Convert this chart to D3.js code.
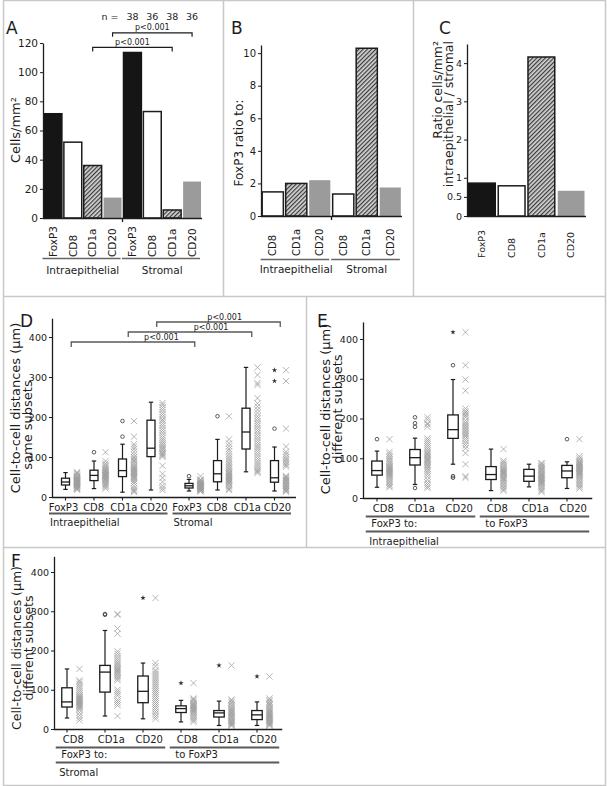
<!DOCTYPE html>
<html>
<head>
<meta charset="utf-8">
<script src="https://cdn.jsdelivr.net/npm/d3@7"></script>
<style>
  body { margin: 0; background: #fff; }
  svg { display: block; }
</style>
</head>
<body>
<svg id="fig" width="607" height="786"></svg>
<script>
// ---- data ----
const categories = ["FoxP3", "CD8", "CD1a", "CD20"];
const locations = ["Intraepithelial", "Stromal"];
const nCounts = [38, 36, 38, 36];

// A: cells/mm2
const densityIntra = [71.5, 52, 36, 14];
const densityStromal = [113.5, 73, 5.5, 25];
const densityTicks = [0, 20, 40, 60, 80, 100, 120];

// B: FoxP3 ratio to subsets
const ratioSubsets = ["CD8", "CD1a", "CD20"];
const ratioIntra = [1.48, 2.0, 2.2];
const ratioStromal = [1.35, 10.3, 1.75];
const ratioTicks = [0, 2, 4, 6, 8, 10];

// C: intraepithelial / stromal
const compartmentRatio = [0.86, 0.79, 4.16, 0.66];
const compartmentTicks = [0, 0.5, 1, 2, 3, 4];

const distanceTicks = [0, 100, 200, 300, 400];

// D: same subsets (intra FoxP3, CD8, CD1a, CD20, stromal FoxP3, CD8, CD1a, CD20)
const sameWhiskerLow = [19, 21, 12, 17.5, 15, 17.5, 63, 15];
const sameQ1 = [30, 41, 51, 101, 22.5, 38, 120, 37];
const sameMedian = [37.5, 54, 66, 122, 28, 58, 162.5, 48];
const sameQ3 = [47, 67, 95, 192, 34, 91, 222, 91];
const sameWhiskerHigh = [61, 90, 132, 237, 44, 144, 324, 125];
const sameOutliers = [[], [112], [151, 190], [], [52], [202], [], [171]];
const sameExtremes = [[], [], [], [], [], [], [], [290, 317]];
const samePoints = [
  [18, 20, 22, 24, 25, 26, 28, 29, 30, 31, 32, 33, 34, 35, 36, 37, 38, 38, 39, 40, 41, 42, 43, 44, 45, 46, 48, 50, 52, 54, 57, 60, 62],
  [21, 25, 28, 31, 34, 37, 40, 42, 44, 46, 48, 50, 52, 53, 54, 55, 56, 58, 60, 62, 64, 66, 68, 70, 73, 76, 80, 84, 90, 112],
  [12, 15, 18, 22, 28, 35, 40, 45, 48, 50, 52, 55, 58, 60, 62, 64, 66, 68, 70, 72, 75, 78, 82, 86, 90, 93, 96, 100, 106, 113, 120, 126, 132, 151, 190],
  [17, 22, 28, 38, 48, 58, 78, 100, 103, 106, 109, 112, 116, 120, 122, 125, 129, 133, 138, 143, 148, 154, 160, 166, 172, 178, 184, 190, 194, 200, 206, 212, 218, 224, 230, 235],
  [14, 15, 17, 18, 19, 20, 21, 22, 23, 23, 24, 25, 26, 27, 27, 28, 28, 29, 30, 31, 32, 33, 34, 35, 36, 38, 40, 42, 44, 52],
  [17, 20, 24, 28, 32, 35, 38, 40, 42, 44, 46, 48, 50, 52, 55, 58, 60, 63, 66, 70, 74, 78, 82, 86, 91, 96, 101, 107, 114, 120, 127, 134, 144, 202],
  [60, 63, 66, 70, 75, 80, 85, 90, 96, 102, 108, 114, 120, 125, 130, 136, 142, 148, 154, 160, 166, 172, 178, 184, 190, 196, 202, 210, 218, 226, 234, 247, 280, 285, 305, 324],
  [13, 15, 18, 20, 22, 25, 28, 30, 33, 36, 38, 40, 42, 45, 48, 50, 53, 76, 80, 84, 88, 92, 96, 101, 107, 113, 126, 171, 290, 317],
];

// E/F: different subsets (FoxP3 to CD8, CD1a, CD20, then CD8, CD1a, CD20 to FoxP3)
const directions = ["FoxP3 to:", "to FoxP3"];
const pairSubsets = ["CD8", "CD1a", "CD20"];

const intraWhiskerLow = [27, 34, 85, 18.6, 28, 24];
const intraQ1 = [57.5, 83, 150, 46.5, 42, 51];
const intraMedian = [69, 101.5, 172, 59, 55, 68];
const intraQ3 = [93, 122, 209, 79, 72, 82];
const intraWhiskerHigh = [118, 150.5, 298, 123, 85, 91];
const intraOutliers = [[148], [25, 179, 188, 203], [51, 55, 334], [], [], [148]];
const intraExtremes = [[], [], [417], [], [], []];
const intraPoints = [
  [27, 30, 34, 38, 42, 46, 50, 53, 56, 58, 60, 62, 64, 66, 68, 70, 72, 74, 76, 78, 80, 83, 86, 90, 94, 98, 102, 106, 111, 116, 148],
  [25, 29, 34, 39, 46, 54, 60, 65, 70, 74, 78, 82, 85, 88, 91, 94, 97, 100, 103, 106, 109, 112, 116, 120, 125, 130, 135, 140, 145, 150, 179, 185, 188, 197, 203],
  [51, 55, 85, 113, 125, 132, 138, 144, 150, 155, 158, 162, 166, 170, 174, 178, 182, 186, 190, 195, 203, 207, 211, 215, 219, 225, 270, 298, 334, 417],
  [18, 22, 26, 30, 34, 38, 42, 45, 48, 50, 52, 55, 58, 60, 62, 64, 66, 68, 70, 72, 75, 78, 82, 86, 90, 94, 123],
  [15, 18, 22, 26, 30, 33, 36, 38, 40, 42, 44, 46, 48, 50, 52, 54, 56, 58, 60, 62, 65, 68, 70, 72, 75, 78, 80, 83, 86, 88],
  [24, 28, 32, 36, 40, 44, 48, 52, 55, 58, 60, 62, 64, 66, 68, 70, 72, 74, 76, 78, 80, 82, 84, 86, 88, 90, 92, 96, 100, 105, 148],
];

const stromaWhiskerLow = [28, 33, 26, 18, 9, 9];
const stromaQ1 = [56, 94, 67, 42, 30.5, 24];
const stromaMedian = [69, 145, 96, 52, 41, 36];
const stromaQ3 = [105, 162, 135, 59, 47, 47];
const stromaWhiskerHigh = [153, 251, 168, 73, 71, 69];
const stromaOutliers = [[], [291, 293], [], [], [], []];
const stromaExtremes = [[], [], [334], [117], [162], [134]];
const stromaPoints = [
  [22, 28, 35, 42, 48, 52, 55, 58, 60, 62, 64, 66, 68, 70, 72, 74, 76, 78, 80, 83, 86, 90, 95, 100, 105, 110, 115, 120, 124, 153],
  [33, 60, 65, 70, 75, 85, 90, 95, 100, 124, 128, 132, 136, 140, 143, 146, 149, 152, 155, 158, 162, 166, 170, 175, 180, 186, 192, 198, 243, 256, 291, 293],
  [26, 32, 38, 44, 50, 55, 60, 65, 70, 75, 80, 85, 90, 95, 100, 105, 110, 115, 120, 125, 130, 135, 140, 145, 150, 160, 168, 334],
  [18, 22, 26, 30, 34, 38, 41, 44, 46, 48, 50, 52, 54, 56, 58, 60, 62, 65, 68, 72, 75, 78, 117],
  [8, 10, 12, 14, 16, 18, 20, 22, 25, 28, 30, 32, 35, 38, 40, 42, 45, 48, 50, 53, 56, 60, 64, 68, 72, 75, 162],
  [8, 10, 12, 14, 16, 18, 20, 22, 24, 26, 28, 30, 32, 34, 36, 38, 40, 42, 45, 48, 50, 53, 56, 60, 63, 66, 70, 74, 78, 134],
];

// ---- drawing ----
const svg = d3.select("#fig").attr("font-family", "'DejaVu Sans', Verdana, sans-serif");
const ink = "#1c1c1c";
const rule = "#5a5a5a";
const frame = "#c8c8c8";
const fills = { FoxP3: "#151515", CD8: "#fff", CD1a: "url(#hatch)", CD20: "#9b9b9b" };
const strokes = { FoxP3: "#151515", CD8: ink, CD1a: ink, CD20: "none" };

const hatch = svg.append("defs").append("pattern")
  .attr("id", "hatch").attr("patternUnits", "userSpaceOnUse")
  .attr("width", 3).attr("height", 3).attr("patternTransform", "rotate(45)");
hatch.append("rect").attr("width", 3).attr("height", 3).attr("fill", "#d4d4d4");
hatch.append("line").attr("x1", 0.6).attr("x2", 0.6).attr("y1", 0).attr("y2", 3).attr("stroke", "#3a3a3a").attr("stroke-width", 1.2);

const hline = (x1, x2, y, color, w) =>
  svg.append("line").attr("x1", x1).attr("x2", x2).attr("y1", y).attr("y2", y).attr("stroke", color).attr("stroke-width", w);
const vline = (x, y1, y2, color, w) =>
  svg.append("line").attr("x1", x).attr("x2", x).attr("y1", y1).attr("y2", y2).attr("stroke", color).attr("stroke-width", w);
const txt = (x, y, s, size, anchor = "middle") =>
  svg.append("text").attr("x", x).attr("y", y).attr("font-size", size).attr("text-anchor", anchor).attr("fill", ink).text(s);
const vtxt = (x, y, s, size, anchor = "middle") =>
  svg.append("text").attr("transform", `translate(${x},${y}) rotate(-90)`).attr("dy", "0.35em")
    .attr("font-size", size).attr("text-anchor", anchor).attr("fill", ink).text(s);

// panel frames
hline(3, 606, 0.5, frame, 1.5);
hline(3, 606, 785.5, frame, 1.5);
vline(3.5, 0, 786, frame, 1.5);
vline(605.5, 0, 786, frame, 1.5);
vline(223.5, 0, 296, frame, 1.5);
vline(413.5, 0, 296, frame, 1.5);
hline(3, 606, 296.5, frame, 1.5);
vline(306.5, 296, 547, frame, 1.5);
hline(3, 606, 547.5, frame, 1.5);

const leftAxis = (x, y, ticks, size) => {
  const g = svg.append("g").attr("transform", `translate(${x},0)`)
    .call(d3.axisLeft(y).tickValues(ticks).tickSize(3).tickSizeOuter(0).tickPadding(2).tickFormat(d3.format("")));
  g.attr("font-family", null).attr("font-size", size);
  g.select(".domain").attr("stroke", ink).attr("stroke-width", 1.3);
  g.selectAll(".tick line").attr("stroke", ink);
  g.selectAll(".tick text").attr("fill", ink);
  return g;
};

// bars with rotated labels under them
const drawBars = (rows, x, y, labelSize, labelY) => {
  svg.append("g").selectAll("rect").data(rows).join("rect")
    .attr("x", (d) => x(d.key)).attr("y", (d) => y(d.value))
    .attr("width", x.bandwidth()).attr("height", (d) => y(0) - y(d.value))
    .attr("fill", (d) => fills[d.cat]).attr("stroke", (d) => strokes[d.cat]).attr("stroke-width", 1.5);
  svg.append("g").selectAll("text").data(rows).join("text")
    .attr("transform", (d) => `translate(${x(d.key) + x.bandwidth() / 2},${labelY}) rotate(-90)`)
    .attr("dy", "0.35em").attr("font-size", labelSize).attr("fill", ink).text((d) => d.cat);
  const [r0, r1] = x.range();
  hline(r0, r1, y(0) + 0.5, ink, 1.5);
};

const groupLabels = (rows, x, y, lineY, textY) => {
  locations.forEach((loc) => {
    const keys = rows.filter((d) => d.loc === loc).map((d) => d.key);
    const x0 = x(keys[0]);
    const x1 = x(keys[keys.length - 1]) + x.bandwidth();
    hline(x0 - 1.5, x1 - 1, lineY, "#666", 1.3);
    txt((x0 + x1) / 2, textY, loc, 10.5);
  });
  // small tick between the two groups
  const last = rows.filter((d) => d.loc === locations[0]).pop().key;
  const mid = x(last) + x.bandwidth() + (x.step() - x.bandwidth()) / 2;
  vline(mid, y(0), y(0) + 4, ink, 1.3);
};

// ---- A ----
const densityRows = locations.flatMap((loc, li) =>
  categories.map((cat, i) => ({ loc, cat, key: `${loc}|${cat}`, value: (li ? densityStromal : densityIntra)[i] })));
const xA = d3.scaleBand().domain(densityRows.map((d) => d.key)).range([43, 202]).paddingInner(0.1).paddingOuter(0.05);
const yA = d3.scaleLinear().domain([0, 120]).range([218, 43]);
drawBars(densityRows, xA, yA, 10.5, 257);
leftAxis(43, yA, densityTicks, 10.5);
groupLabels(densityRows, xA, yA, 258.5, 274);
vtxt(15, 130, "Cells/mm²", 13);
txt(6, 34, "A", 17, "start");

const stromalA = densityRows.filter((d) => d.loc === "Stromal");
txt(xA(stromalA[0].key) - 5, 19.5, "n =", 9.5, "end");
svg.append("g").selectAll("text").data(stromalA).join("text")
  .attr("x", (d) => xA(d.key) + xA.bandwidth() / 2).attr("y", 19.5)
  .attr("text-anchor", "middle").attr("font-size", 9.5).attr("fill", ink)
  .text((d, i) => nCounts[i]);

// significance brackets between compartments (level in cells/mm2)
[["CD1a", 117], ["CD20", 127]].forEach(([cat, level]) => {
  const x1 = xA(`Intraepithelial|${cat}`) + xA.bandwidth() / 2;
  const x2 = xA(`Stromal|${cat}`) + xA.bandwidth() / 2;
  const y = yA(level);
  svg.append("path").attr("d", `M${x1},${y + 4}V${y}H${x2}V${y + 4}`)
    .attr("fill", "none").attr("stroke", ink).attr("stroke-width", 1.2);
  txt((x1 + x2) / 2, y - 2.5, "p<0.001", 8);
});

// ---- B ----
const ratioRows = locations.flatMap((loc, li) =>
  ratioSubsets.map((cat, i) => ({ loc, cat, key: `${loc}|${cat}`, value: (li ? ratioStromal : ratioIntra)[i] })));
const xB = d3.scaleBand().domain(ratioRows.map((d) => d.key)).range([261, 402]).paddingInner(0.1).paddingOuter(0.05);
const yB = d3.scaleLinear().domain([0, 10.5]).range([216, 45]);
drawBars(ratioRows, xB, yB, 10, 256);
leftAxis(261, yB, ratioTicks, 10);
groupLabels(ratioRows, xB, yB, 259.5, 273);
vtxt(239, 143, "FoxP3 ratio to:", 12);
txt(231, 34, "B", 17, "start");

// ---- C ----
const compRows = categories.map((cat, i) => ({ cat, key: cat, value: compartmentRatio[i] }));
const xC = d3.scaleBand().domain(categories).range([467, 586]).paddingInner(0.1).paddingOuter(0.05);
const yC = d3.scaleLinear().domain([0, 4.5]).range([216, 44]);
drawBars(compRows, xC, yC, 9.5, 258);
leftAxis(467, yC, compartmentTicks, 9.5);
vtxt(438, 41, "Ratio cells/mm²", 12.5, "end");
vtxt(448.5, 41, "intraepithelial / stromal", 12.5, "end");
txt(439, 34, "C", 17, "start");

// ---- box plots ----
const cross = "M-3.1,-3.1L3.1,3.1M-3.1,3.1L3.1,-3.1";
const star = d3.symbol(d3.symbolStar, 9)();

const zipStats = (low, q1, med, q3, high, out, ext, pts) =>
  low.map((l, i) => ({ low: l, q1: q1[i], med: med[i], q3: q3[i], high: high[i], out: out[i], ext: ext[i], pts: pts[i] }));

const drawBoxes = (stats, center, y, off, boxW) => {
  const g = svg.append("g");
  stats.forEach((s, i) => {
    const bx = center(i) - off;
    const mx = center(i) + off;
    g.selectAll(null).data(s.pts).join("path")
      .attr("d", cross).attr("transform", (v) => `translate(${mx},${y(v)})`)
      .attr("fill", "none").attr("stroke", "#9d9d9d").attr("stroke-width", 0.75);
    g.append("line").attr("x1", bx).attr("x2", bx).attr("y1", y(s.low)).attr("y2", y(s.high))
      .attr("stroke", ink).attr("stroke-width", 1.2);
    [s.low, s.high].forEach((v) =>
      g.append("line").attr("x1", bx - 2.2).attr("x2", bx + 2.2).attr("y1", y(v)).attr("y2", y(v))
        .attr("stroke", ink).attr("stroke-width", 1.2));
    g.append("rect").attr("x", bx - boxW / 2).attr("y", y(s.q3))
      .attr("width", boxW).attr("height", y(s.q1) - y(s.q3))
      .attr("fill", "#fff").attr("stroke", ink).attr("stroke-width", 1.3);
    g.append("line").attr("x1", bx - boxW / 2).attr("x2", bx + boxW / 2).attr("y1", y(s.med)).attr("y2", y(s.med))
      .attr("stroke", ink).attr("stroke-width", 1.3);
    g.selectAll(null).data(s.out).join("circle")
      .attr("cx", bx).attr("cy", (v) => y(v)).attr("r", 1.8)
      .attr("fill", "none").attr("stroke", "#333").attr("stroke-width", 0.8);
    g.selectAll(null).data(s.ext).join("path")
      .attr("d", star).attr("transform", (v) => `translate(${bx},${y(v)})`).attr("fill", "#333");
  });
};

const bottomAxis = (x0, x1, y, centers) => {
  hline(x0, x1, y + 0.5, ink, 1.3);
  centers.forEach((cx) => vline(cx, y, y + 3.5, ink, 1.1));
};

// ---- D ----
const sameKeys = locations.flatMap((loc) => categories.map((cat) => ({ loc, cat })));
const xDg = d3.scaleBand().domain(locations).range([57, 294.5]).paddingInner(0.077);
const xDs = d3.scaleBand().domain(categories).range([0, xDg.bandwidth()]);
const xDl = d3.scalePoint().domain(categories).range([6.5, 97]);
const centerD = (i) => xDg(sameKeys[i].loc) + xDs(sameKeys[i].cat) + xDs.bandwidth() / 2;
const yD = d3.scaleLinear().domain([0, 447]).range([497, 318.2]);
const offD = 5.75;
const sameStats = zipStats(sameWhiskerLow, sameQ1, sameMedian, sameQ3, sameWhiskerHigh, sameOutliers, sameExtremes, samePoints);
drawBoxes(sameStats, centerD, yD, offD, 8);
leftAxis(52, yD, distanceTicks, 9.5);
bottomAxis(52, 296, yD(0), sameKeys.map((d, i) => centerD(i) - offD));
sameKeys.forEach((d) => txt(xDg(d.loc) + xDl(d.cat), yD(0) + 13.5, d.cat, 10));
locations.forEach((loc) => {
  const x0 = xDg(loc);
  hline(x0 - 8, x0 + xDg.bandwidth() - 3.5, yD(0) + 16.5, rule, 2);
  txt(x0 - 7, yD(0) + 28.5, loc, 10, "start");
});
// brackets: subset, level (µm), label position along the bracket
[["FoxP3", 387.5, 0.73], ["CD1a", 412.5, 0.67], ["CD20", 437.5, 0.55]].forEach(([cat, level, at]) => {
  const i1 = sameKeys.findIndex((d) => d.loc === "Intraepithelial" && d.cat === cat);
  const i2 = sameKeys.findIndex((d) => d.loc === "Stromal" && d.cat === cat);
  const x1 = centerD(i1);
  const x2 = centerD(i2);
  const y = yD(level);
  svg.append("path").attr("d", `M${x1},${y + 5}V${y}H${x2}V${y + 5}`)
    .attr("fill", "none").attr("stroke", rule).attr("stroke-width", 1.3);
  txt(x1 + (x2 - x1) * at, y - 2.5, "p<0.001", 8);
});
vtxt(15, 408, "Cell-to-cell distances (µm)", 13);
vtxt(27, 425, "same subsets", 13);
txt(20, 327, "D", 17, "start");

// ---- E and F ----
const pairKeys = directions.flatMap((dir) => pairSubsets.map((cat) => ({ dir, cat, key: `${dir}|${cat}` })));

const drawPairs = (stats, range, y, axisX, loc) => {
  const x = d3.scaleBand().domain(pairKeys.map((d) => d.key)).range(range);
  const center = (i) => x(pairKeys[i].key) + x.bandwidth() / 2;
  const off = 6.25;
  drawBoxes(stats, center, y, off, 10.5);
  leftAxis(axisX, y, distanceTicks, 9.5);
  const base = y(0);
  bottomAxis(axisX, range[1], base, pairKeys.map((d, i) => center(i) - off));
  pairKeys.forEach((d, i) => txt(center(i), base + 14, d.cat, 10));
  directions.forEach((dir) => {
    const keys = pairKeys.filter((d) => d.dir === dir);
    const x0 = x(keys[0].key);
    const x1 = x(keys[keys.length - 1].key) + x.bandwidth();
    hline(x0 + 1.5, x1 - 3, base + 18.5, rule, 2);
    txt(x0 + 7, base + 29, dir, 10, "start");
  });
  hline(range[0] + 1.5, range[1] - 3, base + 33.5, rule, 2);
  txt(range[0] + 5, base + 46.5, loc, 10, "start");
};

const yE = d3.scaleLinear().domain([0, 443]).range([498, 498 - 443 * 0.3975]);
const intraStats = zipStats(intraWhiskerLow, intraQ1, intraMedian, intraQ3, intraWhiskerHigh, intraOutliers, intraExtremes, intraPoints);
drawPairs(intraStats, [364.25, 592.25], yE, 363, "Intraepithelial");
vtxt(325.5, 409, "Cell-to-cell distances (µm)", 13);
vtxt(337.5, 409, "different subsets", 13);
txt(317, 327, "E", 17, "start");

const yF = d3.scaleLinear().domain([0, 440]).range([729, 729 - 440 * 0.3925]);
const stromaStats = zipStats(stromaWhiskerLow, stromaQ1, stromaMedian, stromaQ3, stromaWhiskerHigh, stromaOutliers, stromaExtremes, stromaPoints);
drawPairs(stromaStats, [54.25, 282.25], yF, 54, "Stromal");
vtxt(17, 648, "Cell-to-cell distances (µm)", 12.5);
vtxt(29, 648, "different subsets", 12.5);
txt(11, 567, "F", 17, "start");
</script>
</body>
</html>
